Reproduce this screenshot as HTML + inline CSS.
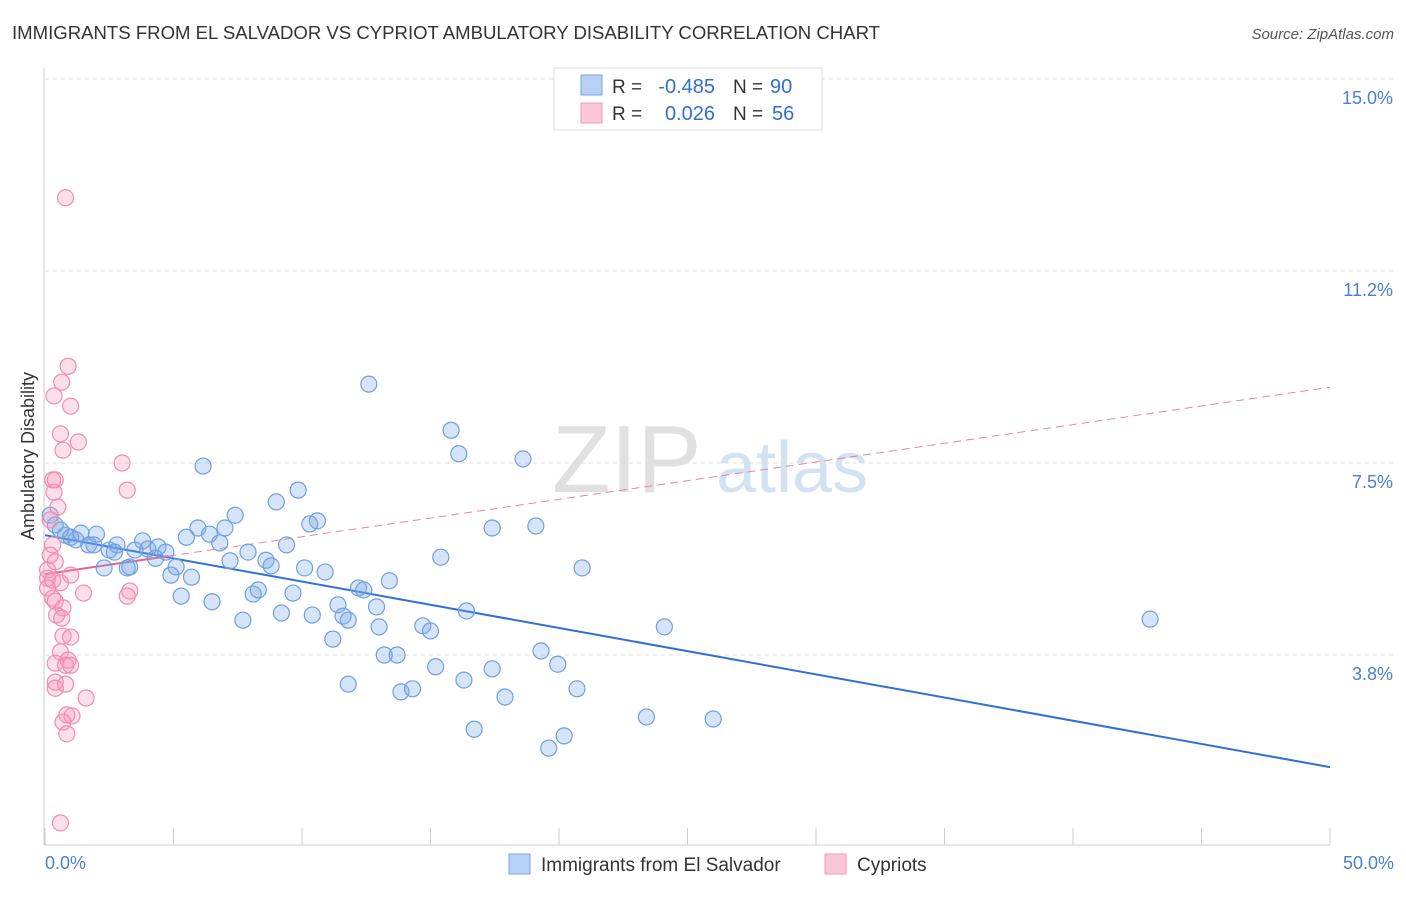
<!DOCTYPE html>
<html><head><meta charset="utf-8"><style>
body{margin:0;background:#fff;font-family:"Liberation Sans",sans-serif;}
svg text{font-family:"Liberation Sans",sans-serif;}
</style></head><body>
<svg id="chart" width="1406" height="892" xmlns="http://www.w3.org/2000/svg">
<text x="12" y="39" font-size="18" fill="#333" textLength="868" lengthAdjust="spacingAndGlyphs">IMMIGRANTS FROM EL SALVADOR VS CYPRIOT AMBULATORY DISABILITY CORRELATION CHART</text>
<text x="1394" y="39" font-size="15" fill="#555" text-anchor="end" font-style="italic">Source: ZipAtlas.com</text>
<g>
<text x="552" y="492" font-size="96" fill="#e0e0e0" font-family="Liberation Serif" >ZIP</text>
<text x="716" y="492" font-size="72" fill="#d3e2f3">atlas</text>
</g>
<g id="grid"></g>
<line x1="44" y1="68" x2="44" y2="845" stroke="#ccc"/>
<line x1="44" y1="845" x2="1330" y2="845" stroke="#ccc"/>
<g id="xticks"></g>
<text transform="translate(34,456) rotate(-90)" font-size="18" fill="#333" text-anchor="middle">Ambulatory Disability</text>
<text x="45" y="869" font-size="18" fill="#4a7fd4">0.0%</text>
<text x="1394" y="869" font-size="18" fill="#4a7fd4" text-anchor="end">50.0%</text>
<g id="trends"></g>
<g id="points"></g>
<g>
<rect x="554" y="68" width="268" height="62" fill="#fff" stroke="#ddd"/>
<rect x="581" y="75" width="21" height="20" fill="#b7d0f3" stroke="#7aa6e0"/>
<rect x="581" y="103" width="21" height="20" fill="#fbc7d6" stroke="#f098b5"/>
<text x="612" y="93" font-size="19" fill="#333">R =</text>
<text x="715" y="93" font-size="20" fill="#2e6fd0" text-anchor="end">-0.485</text>
<text x="733" y="93" font-size="19" fill="#333">N =</text>
<text x="770" y="93" font-size="20" fill="#2e6fd0">90</text>
<text x="612" y="120" font-size="19" fill="#333">R =</text>
<text x="715" y="120" font-size="20" fill="#2e6fd0" text-anchor="end">0.026</text>
<text x="733" y="120" font-size="19" fill="#333">N =</text>
<text x="772" y="120" font-size="20" fill="#2e6fd0">56</text>
</g>
<g>
<rect x="509" y="854" width="21" height="20" fill="#b7d0f3" stroke="#7aa6e0"/>
<text x="541" y="871" font-size="19" fill="#333">Immigrants from El Salvador</text>
<rect x="825" y="854" width="21" height="20" fill="#fbc7d6" stroke="#f098b5"/>
<text x="857" y="871" font-size="19" fill="#333">Cypriots</text>
</g>
</svg>
<script>
const yTicks=[3.75,7.5,11.25,15];
const yTickLabels=["3.8%","7.5%","11.2%","15.0%"];
const xTicks=[0,5,10,15,20,25,30,35,40,45,50];
const blueX=[0.2,0.4,0.6,0.8,1.0,1.2,1.4,1.7,2.0,1.9,2.3,2.5,2.8,2.7,3.2,3.3,3.5,3.8,4.0,4.3,4.4,4.7,4.9,5.1,5.3,5.5,5.7,5.95,6.15,6.4,6.5,6.8,7.0,7.2,7.4,7.7,7.9,8.1,8.3,8.6,8.8,9.0,9.2,9.4,9.65,9.85,10.1,10.3,10.4,10.6,10.9,11.2,11.4,11.6,11.8,11.8,12.2,12.4,12.6,12.9,13.0,13.2,13.4,13.7,13.85,14.3,14.7,15.0,15.2,15.4,15.8,16.1,16.3,16.4,16.7,17.4,17.4,17.9,18.6,19.1,19.3,19.6,19.95,20.2,20.7,20.9,23.4,24.1,26.0,43.0];
const blueY=[6.48,6.29,6.19,6.09,6.05,6.0,6.13,5.9,6.11,5.9,5.45,5.8,5.9,5.76,5.45,5.47,5.8,5.98,5.82,5.64,5.86,5.76,5.31,5.47,4.9,6.05,5.27,6.23,7.44,6.11,4.79,5.94,6.23,5.59,6.48,4.43,5.76,4.94,5.02,5.6,5.49,6.74,4.57,5.9,4.96,6.97,5.45,6.31,4.53,6.37,5.37,4.06,4.73,4.51,4.43,3.18,5.06,5.02,9.04,4.69,4.3,3.75,5.2,3.75,3.03,3.09,4.32,4.22,3.52,5.66,8.14,7.68,3.26,4.61,2.3,6.23,3.48,2.93,7.58,6.27,3.83,1.93,3.57,2.17,3.09,5.45,2.54,4.3,2.5,4.45];
const pinkX=[0.8,0.9,0.65,0.35,1.0,0.6,1.3,0.7,3.0,0.3,0.4,0.35,3.2,0.5,0.2,0.3,0.2,0.4,0.1,0.1,0.3,1.0,0.6,0.1,0.3,0.4,1.5,3.3,3.2,0.7,0.45,0.65,0.7,1.0,0.6,0.9,0.4,0.8,1.0,0.4,0.8,0.4,1.6,0.85,1.05,0.7,0.85,0.6];
const pinkY=[12.68,9.39,9.08,8.81,8.61,8.07,7.91,7.75,7.5,7.17,7.17,6.93,6.97,6.64,6.39,5.9,5.7,5.57,5.41,5.25,5.21,5.31,5.16,5.06,4.86,4.8,4.96,5.0,4.9,4.67,4.53,4.47,4.12,4.1,3.81,3.65,3.59,3.55,3.55,3.22,3.18,3.1,2.91,2.58,2.56,2.44,2.21,0.47];
const blueTrend=[6.09,1.56];
const pinkTrend=[5.33,8.98];
const NS="http://www.w3.org/2000/svg";
const sx=v=>45+v*25.7, sy=v=>847-v*51.2;
function mk(t,a,p){const e=document.createElementNS(NS,t);for(const k in a)e.setAttribute(k,a[k]);p.appendChild(e);return e;}
const grid=document.getElementById('grid');
yTicks.forEach((v,i)=>{
 const l=mk('line',{x1:45,x2:1394,y1:sy(v),y2:sy(v),stroke:'#ddd','stroke-dasharray':'4,4'},grid);
 
 
 const t=mk('text',{x:1393,y:sy(v)+25,'font-size':18,fill:'#4a7fd4','text-anchor':'end'},grid);
 t.textContent=yTickLabels[i];
 
 
});
const xt=document.getElementById('xticks');
xTicks.forEach(v=>{
 const l=mk('line',{x1:sx(v),x2:sx(v),y1:828,y2:845,stroke:'#ccc'},xt);
 
 
});
const tr=document.getElementById('trends');
let b=mk('line',{x1:sx(0),y1:sy(blueTrend[0]),x2:sx(50),y2:sy(blueTrend[1]),stroke:'#2e6fd8','stroke-width':2},tr);


const pv=x=>pinkTrend[0]+(pinkTrend[1]-pinkTrend[0])*x/50;
let p1=mk('line',{x1:sx(0),y1:sy(pv(0)),x2:sx(4.8),y2:sy(pv(4.8)),stroke:'#e8608c','stroke-width':2},tr);


let p2=mk('line',{x1:sx(4.8),y1:sy(pv(4.8)),x2:sx(50),y2:sy(pv(50)),stroke:'#e8849f','stroke-width':1,'stroke-dasharray':'8,5'},tr);


const pts=document.getElementById('points');
blueX.forEach((x,i)=>{
 const c=mk('circle',{cx:sx(x),cy:sy(blueY[i]),r:8,fill:'rgba(120,165,230,0.3)',stroke:'#6f9fe0','stroke-width':1.2},pts);
 
 
});
pinkX.forEach((x,i)=>{
 const c=mk('circle',{cx:sx(x),cy:sy(pinkY[i]),r:8,fill:'rgba(245,150,185,0.3)',stroke:'#f08cb0','stroke-width':1.2},pts);
 
 
});
</script>
</body></html>
